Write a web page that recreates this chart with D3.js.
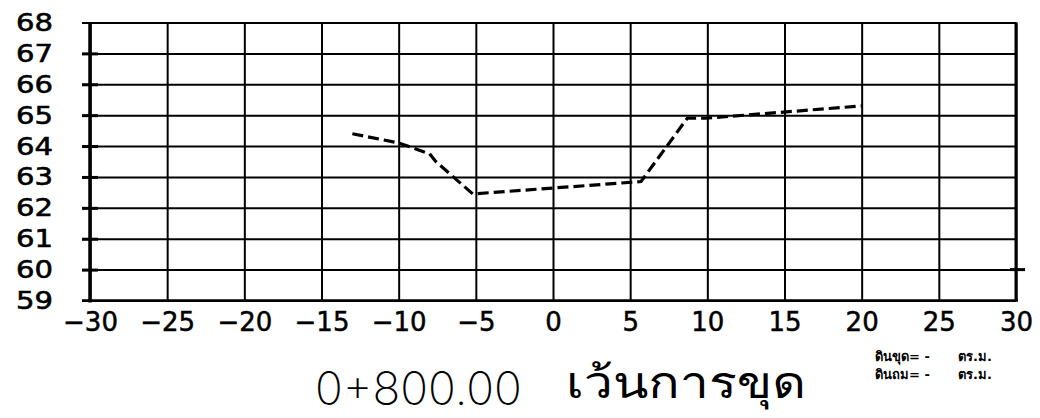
<!DOCTYPE html>
<html><head><meta charset="utf-8">
<script src="https://cdn.jsdelivr.net/npm/d3@7"></script>
<style>
body{margin:0;background:#fff;}
svg{display:block;}
</style></head>
<body>
<svg id="c" width="1040" height="418"></svg>
<script>
// data
const offsets = [-13, -10, -8, -7.6, -5.2, 5.7, 8.7, 9.9, 20];
const levels  = [64.4, 64.1, 63.75, 63.5, 62.45, 62.85, 64.9, 64.9, 65.3];
const xTicks = [-30,-25,-20,-15,-10,-5,0,5,10,15,20,25,30];
const yTicks = [59,60,61,62,63,64,65,66,67,68];
const titleNum = "0+800.00";
const titleThai = "เว้นการขุด";
const noteRows = [["ดินขุด= -","ตร.ม."],["ดินถม= -","ตร.ม."]];

const svg = d3.select("#c");
const L=90, R=1016, T=22.5, B=300.5;
const x = d3.scaleLinear().domain([-30,30]).range([L,R]);
const y = d3.scaleLinear().domain([59,68]).range([B,T]);

// horizontal grid + y labels
const gy = svg.append("g").attr("transform",`translate(${L-8},0)`)
  .call(d3.axisLeft(y).tickValues(yTicks).tickSize(-(R-L+8)).tickPadding(29).tickFormat(d3.format("d")));
gy.select(".domain").remove();
gy.selectAll(".tick line").attr("stroke","#000").attr("stroke-width",2);
gy.selectAll("text").attr("font-family","DejaVu Sans, sans-serif").attr("font-size",25)
  .attr("textLength",37).attr("lengthAdjust","spacingAndGlyphs")
  .attr("stroke","#000").attr("stroke-width",0.6).attr("fill","#000");

// thick short ticks on left axis
const gy2 = svg.append("g").attr("transform",`translate(${L-8},0)`)
  .call(d3.axisLeft(y).tickValues(yTicks.slice(1,-1)).tickSize(-16).tickFormat(""));
gy2.select(".domain").remove();
gy2.selectAll(".tick line").attr("stroke","#000").attr("stroke-width",3);

// vertical grid + x labels
const gx = svg.append("g").attr("transform",`translate(0,${B})`)
  .call(d3.axisBottom(x).tickValues(xTicks).tickSize(-(B-T)).tickPadding(12).tickFormat(d=>d<0?"−"+Math.abs(d):d));
gx.select(".domain").remove();
gx.selectAll(".tick line").attr("stroke","#000").attr("stroke-width",2);
gx.selectAll("text").attr("font-family","DejaVu Sans, sans-serif").attr("font-size",26)
  .attr("stroke","#000").attr("stroke-width",0.5).attr("fill","#000");

// axes frame lines
svg.append("line").attr("x1",x(-30)).attr("x2",x(-30)).attr("y1",y(68)).attr("y2",y(59)+2).attr("stroke","#000").attr("stroke-width",3.5);
svg.append("line").attr("x1",x(-30)-8).attr("x2",x(30)+2).attr("y1",y(59)).attr("y2",y(59)).attr("stroke","#000").attr("stroke-width",2.5);
svg.append("line").attr("x1",x(30)).attr("x2",x(30)).attr("y1",y(68)).attr("y2",y(59)).attr("stroke","#000").attr("stroke-width",3);
svg.append("line").attr("x1",x(30)-6).attr("x2",x(30)+9).attr("y1",y(60)).attr("y2",y(60)).attr("stroke","#000").attr("stroke-width",3);

// ground line
const line = d3.line().x((d,i)=>x(offsets[i])).y(d=>y(d));
svg.append("path").datum(levels).attr("d",line).attr("fill","none")
  .attr("stroke","#000").attr("stroke-width",3.2).attr("stroke-dasharray","11,5");

// title
svg.append("text").attr("x",315).attr("y",405)
  .attr("font-family","Inter, sans-serif").attr("font-weight",200).attr("font-size",46).attr("fill","#000")
  .text(titleNum);
const th = svg.append("text").attr("x",566).attr("y",401)
  .attr("font-family","Sawasdee, 'Tlwg Typo', Loma, sans-serif").attr("font-weight",300).attr("font-size",44)
  .attr("textLength",240).attr("lengthAdjust","spacingAndGlyphs").attr("fill","#000")
  .text(titleThai);
const bb = th.node().getBBox();
if (bb.y + bb.height > 417) th.attr("y", 401 - (bb.y + bb.height - 417));

// notes
noteRows.forEach((r,i)=>{
  svg.append("text").attr("x",875).attr("y",361+i*18).attr("font-family","DejaVu Sans, sans-serif")
    .attr("font-weight","bold").attr("font-size",13).text(r[0]);
  svg.append("text").attr("x",958).attr("y",361+i*18).attr("font-family","DejaVu Sans, sans-serif")
    .attr("font-weight","bold").attr("font-size",13).text(r[1]);
});
</script>
</body></html>
